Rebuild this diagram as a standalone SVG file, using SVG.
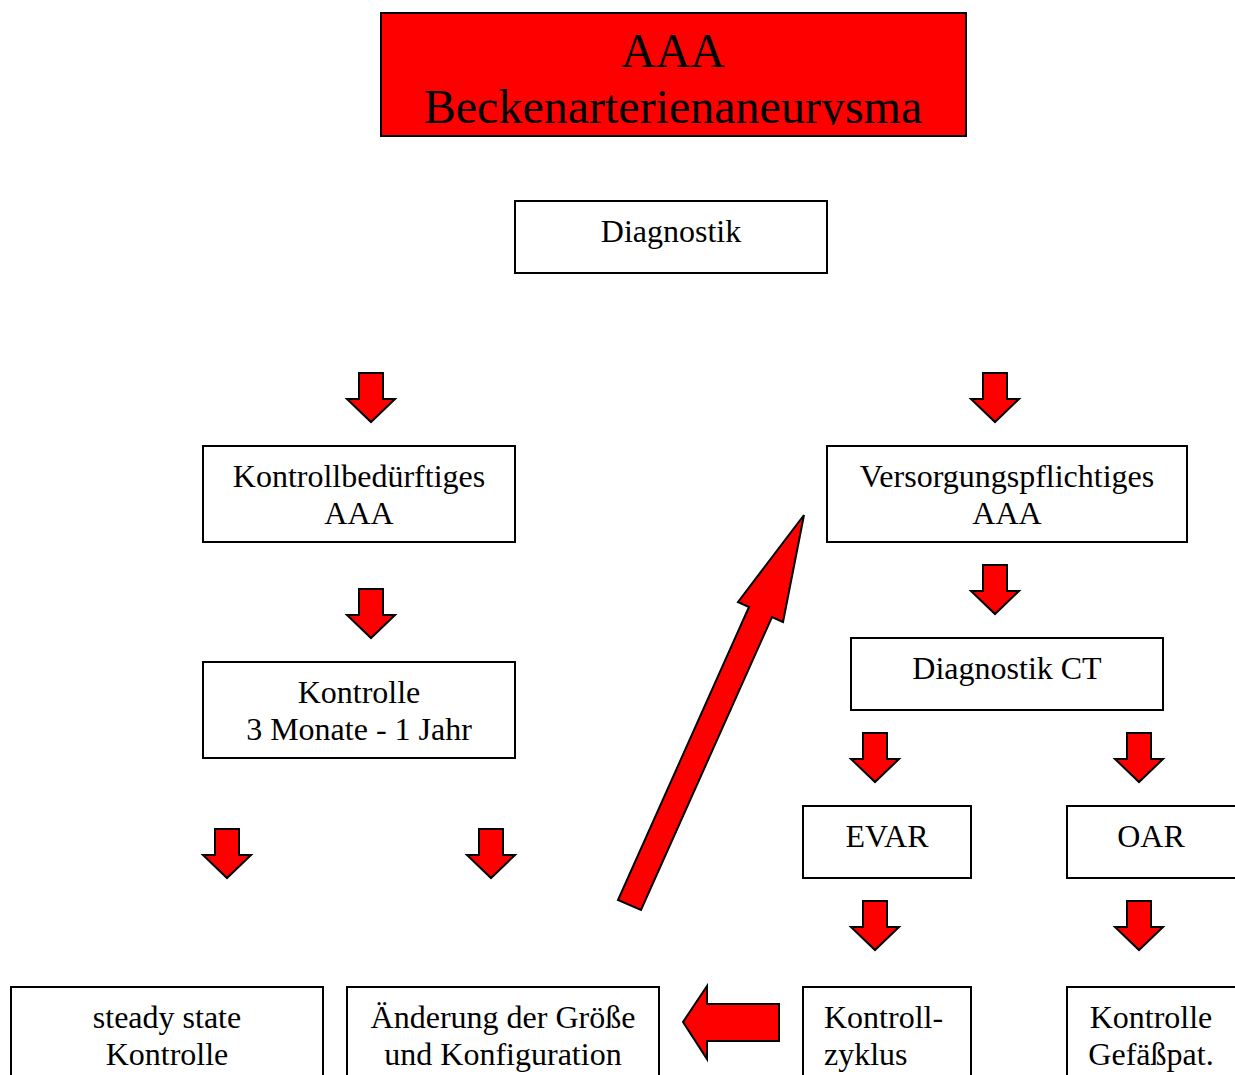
<svg xmlns="http://www.w3.org/2000/svg" width="1235" height="1075" viewBox="0 0 1235 1075">
<style>
.box{fill:#fff;stroke:#000;stroke-width:2}
.t{font-family:"Liberation Serif","Times New Roman",serif;font-size:32px;fill:#000;text-anchor:middle}
.tl{text-anchor:start}
.title{font-size:48px}
.arr{fill:#ff0000;stroke:#000;stroke-width:2;stroke-linejoin:miter}
</style>
<defs>
<path id="down" d="M-12,0 H12 V26 H24 L0,49 L-24,26 H-12 Z"/>
<clipPath id="tc"><rect x="381" y="13" width="585" height="112"/></clipPath>
</defs>
<rect width="1235" height="1075" fill="#fff"/>
<g id="title">
<rect x="381" y="13" width="585" height="123" fill="#ff0000" stroke="#000" stroke-width="2"/>
<g clip-path="url(#tc)">
<text class="t title" x="673" y="67">AAA</text>
<text class="t title" x="673" y="123">Beckenarterienaneurysma</text>
</g>
</g>
<g id="diagnostik">
<rect class="box" x="515" y="201" width="312" height="72"/>
<text class="t" x="671" y="242">Diagnostik</text>
</g>
<g id="kontrollbeduerftig">
<rect class="box" x="203" y="446" width="312" height="96"/>
<text class="t" x="359" y="487">Kontrollbedürftiges</text>
<text class="t" x="359" y="524">AAA</text>
</g>
<g id="versorgungspflichtig">
<rect class="box" x="827" y="446" width="360" height="96"/>
<text class="t" x="1007" y="487">Versorgungspflichtiges</text>
<text class="t" x="1007" y="524">AAA</text>
</g>
<g id="diagnostikct">
<rect class="box" x="851" y="638" width="312" height="72"/>
<text class="t" x="1007" y="679">Diagnostik CT</text>
</g>
<g id="kontrolle">
<rect class="box" x="203" y="662" width="312" height="96"/>
<text class="t" x="359" y="703">Kontrolle</text>
<text class="t" x="359" y="740">3 Monate - 1 Jahr</text>
</g>
<g id="evar">
<rect class="box" x="803" y="806" width="168" height="72"/>
<text class="t" x="887" y="847">EVAR</text>
</g>
<g id="oar">
<rect class="box" x="1067" y="806" width="170" height="72"/>
<text class="t" x="1151" y="847">OAR</text>
</g>
<g id="steady">
<rect class="box" x="11" y="987" width="312" height="100"/>
<text class="t" x="167" y="1028">steady state</text>
<text class="t" x="167" y="1065">Kontrolle</text>
</g>
<g id="aenderung">
<rect class="box" x="347" y="987" width="312" height="100"/>
<text class="t" x="503" y="1028">Änderung der Größe</text>
<text class="t" x="503" y="1065">und Konfiguration</text>
</g>
<g id="kontrollzyklus">
<rect class="box" x="803" y="987" width="168" height="100"/>
<text class="t tl" x="824" y="1028">Kontroll-</text>
<text class="t tl" x="824" y="1065">zyklus</text>
</g>
<g id="kontrollegefaess">
<rect class="box" x="1067" y="987" width="170" height="100"/>
<text class="t" x="1151" y="1028">Kontrolle</text>
<text class="t" x="1151" y="1065">Gefäßpat.</text>
</g>
<g id="connectors">
<use href="#down" class="arr" x="371" y="373"/>
<use href="#down" class="arr" x="995" y="373"/>
<use href="#down" class="arr" x="371" y="589"/>
<use href="#down" class="arr" x="995" y="565"/>
<use href="#down" class="arr" x="875" y="733"/>
<use href="#down" class="arr" x="1139" y="733"/>
<use href="#down" class="arr" x="227" y="829"/>
<use href="#down" class="arr" x="491" y="829"/>
<use href="#down" class="arr" x="875" y="901"/>
<use href="#down" class="arr" x="1139" y="901"/>
<polygon class="arr" points="779,1004 707,1004 707,986 683,1022 707,1059 707,1041 779,1041"/>
<polygon class="arr" points="804,515 783,622 772,617 641,910 618,900 749,607 738,602"/>
</g>
</svg>
